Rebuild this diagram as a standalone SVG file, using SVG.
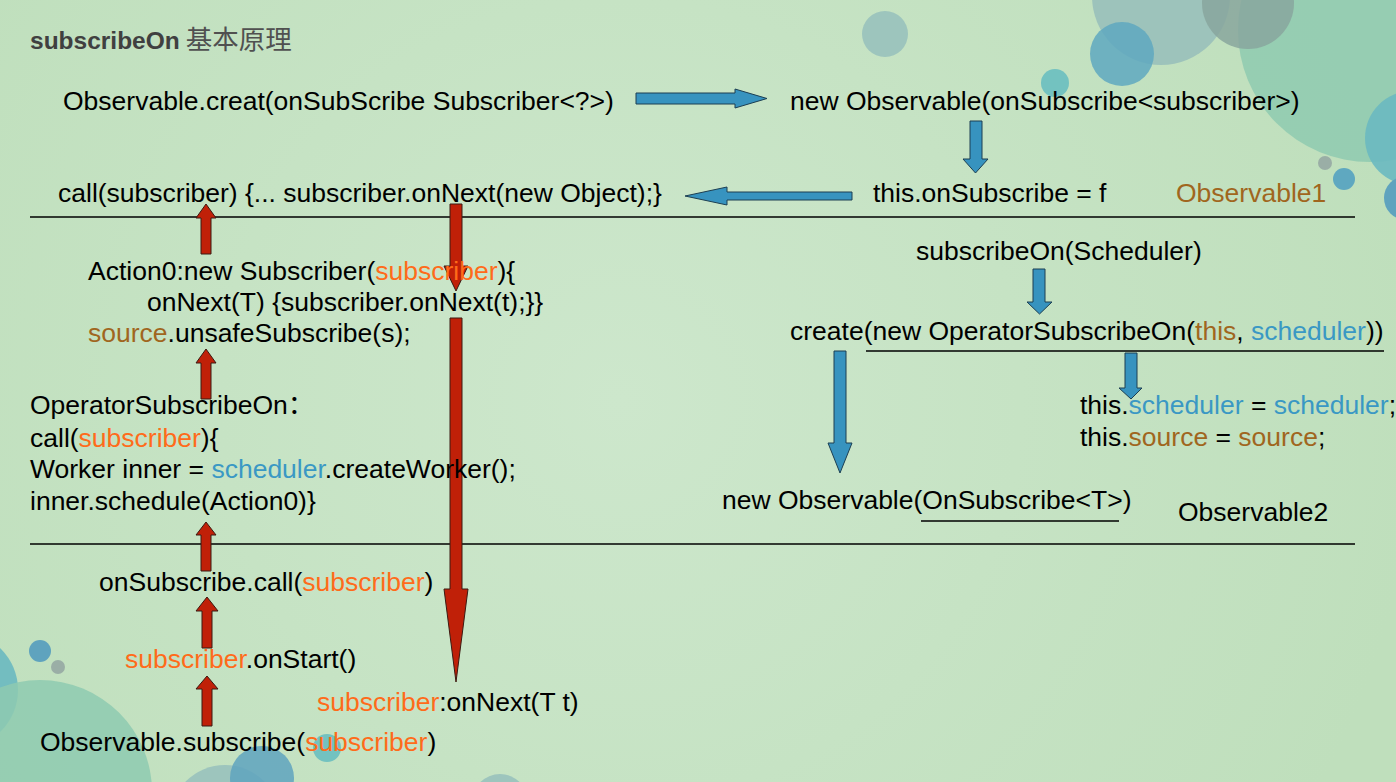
<svg xmlns="http://www.w3.org/2000/svg" width="1396" height="782" viewBox="0 0 1396 782">
<defs>
<radialGradient id="bg" cx="620" cy="400" r="800" gradientUnits="userSpaceOnUse">
<stop offset="0" stop-color="#cde7cc"/>
<stop offset="1" stop-color="#bfdfbc"/>
</radialGradient>
<style>
.t{font-family:"Liberation Sans",Arial,sans-serif;font-size:26.5px;fill:#000}
.o{fill:#ff6b1a}
.b{fill:#3a98c4}
.br{fill:#a0661e}
.ba{fill:#3793bf;stroke:#1d3f52;stroke-width:1}
.ra{fill:#c02008;stroke:#3b1a12;stroke-width:1}
.ln{stroke:#000;stroke-width:1.3;fill:none}
</style>
</defs>
<rect width="1396" height="782" fill="url(#bg)"/>
<g id="decor">
<circle cx="1370" cy="30" r="132" fill="#8ecab0" opacity="0.85"/>
<circle cx="1161" cy="-4" r="69" fill="#9dc3bb"/>
<circle cx="1248" cy="3" r="46" fill="#88a69e" opacity="0.85"/>
<circle cx="1122" cy="54" r="32" fill="#5fa8c0" opacity="0.85"/>
<circle cx="1055" cy="83" r="14" fill="#73c2c0"/>
<circle cx="885" cy="34" r="23" fill="#9dc5bd"/>
<circle cx="1412" cy="138" r="47" fill="#6ab9c0" opacity="0.9"/>
<circle cx="1325" cy="163" r="7" fill="#9aaea6"/>
<circle cx="1344" cy="179" r="11" fill="#5fa8c0"/>
<circle cx="1406" cy="198" r="22" fill="#5fa3be"/>
<circle cx="-40" cy="690" r="58" fill="#6ab9c0" opacity="0.9"/>
<circle cx="40" cy="651" r="11" fill="#5fa3be"/>
<circle cx="58" cy="667" r="7" fill="#9aaea6"/>
<circle cx="40" cy="792" r="112" fill="#8ecab0" opacity="0.85"/>
<circle cx="225" cy="820" r="55" fill="#9dc5bd"/>
<circle cx="262" cy="778" r="32" fill="#5fa3be" opacity="0.85"/>
<circle cx="327" cy="748" r="14" fill="#73c2c0"/>
<circle cx="500" cy="802" r="28" fill="#9dc5bd"/>
</g>
<g id="title">
<text x="30" y="49" font-family="'Liberation Sans',Arial,sans-serif" font-size="24.5" font-weight="bold" fill="#404040">subscribeOn<tspan font-family="'Noto Sans CJK SC',sans-serif" font-weight="normal" font-size="26.5" fill="#505050"> 基本原理</tspan></text>
</g>
<g id="separators">
<line class="ln" x1="30" y1="217" x2="1355" y2="217"/>
<line class="ln" x1="30" y1="544" x2="1355" y2="544"/>
<line class="ln" x1="866" y1="351" x2="1384" y2="351"/>
<line class="ln" x1="921" y1="521" x2="1119" y2="521"/>
</g>
<g id="connectors">
<polygon class="ba" points="636,93 735,93 735,89 767,98.5 735,108 735,104 636,104"/>
<polygon class="ba" points="852,192 727,192 727,187 685,196 727,205 727,200 852,200"/>
<polygon class="ba" points="970,121 982,121 982,159 988,159 975.5,173 963,159 970,159"/>
<polygon class="ba" points="1033,269 1045,269 1045,302 1052,302 1039.5,314 1027,302 1033,302"/>
<polygon class="ba" points="1125,353 1137,353 1137,388 1142,388 1131,399 1119,388 1125,388"/>
<polygon class="ba" points="834,351 846,351 846,443 852,443 840,473 828,443 834,443"/>
<polygon class="ra" points="206,204 216,218 211,218 211,254 201,254 201,218 196,218"/>
<polygon class="ra" points="206,349 216,363 211,363 211,399 201,399 201,363 196,363"/>
<polygon class="ra" points="206,522 216,535 211,535 211,571 201,571 201,535 196,535"/>
<polygon class="ra" points="207,597 218,611 212,611 212,648 202,648 202,611 196,611"/>
<polygon class="ra" points="207,676 218,689 212,689 212,726 202,726 202,689 196,689"/>
<polygon class="ra" points="450,204 462,204 462,266 468,266 456,291 444,266 450,266"/>
<polygon class="ra" points="450,318 462,318 462,589 468,589 456,682 444,589 450,589"/>
</g>
<g id="n-create"><text class="t" x="63" y="110">Observable.creat(onSubScribe Subscriber&lt;?&gt;)</text></g>
<g id="n-newobs"><text class="t" x="790" y="110">new Observable(onSubscribe&lt;subscriber&gt;)</text></g>
<g id="n-call"><text class="t" x="58" y="202">call(subscriber) {... subscriber.onNext(new Object);}</text></g>
<g id="n-assign"><text class="t" x="873" y="202">this.onSubscribe = f</text></g>
<g id="n-obs1"><text class="t br" x="1176" y="202">Observable1</text></g>
<g id="n-subon"><text class="t" x="916" y="260">subscribeOn(Scheduler)</text></g>
<g id="n-action0">
<text class="t" x="88" y="280">Action0:new Subscriber(<tspan class="o">subscriber</tspan>){</text>
<text class="t" x="147" y="311">onNext(T) {subscriber.onNext(t);}}</text>
<text class="t" x="88" y="342"><tspan class="br">source</tspan>.unsafeSubscribe(s);</text>
</g>
<g id="n-create2"><text class="t" x="790" y="340">create(new OperatorSubscribeOn(<tspan class="br">this</tspan>, <tspan class="b">scheduler</tspan>))</text></g>
<g id="n-fields">
<text class="t" x="1080" y="414">this.<tspan class="b">scheduler</tspan> = <tspan class="b">scheduler</tspan>;</text>
<text class="t" x="1080" y="446">this.<tspan class="br">source</tspan> = <tspan class="br">source</tspan>;</text>
</g>
<g id="n-operator">
<text class="t" x="30" y="414">OperatorSubscribeOn<tspan font-family="'Noto Sans CJK SC',sans-serif">：</tspan></text>
<text class="t" x="30" y="447">call(<tspan class="o">subscriber</tspan>){</text>
<text class="t" x="30" y="478">Worker inner = <tspan class="b">scheduler</tspan>.createWorker();</text>
<text class="t" x="30" y="510">inner.schedule(Action0)}</text>
</g>
<g id="n-newobs2"><text class="t" x="722" y="509">new Observable(OnSubscribe&lt;T&gt;)</text></g>
<g id="n-obs2"><text class="t" x="1178" y="521">Observable2</text></g>
<g id="n-oncall"><text class="t" x="99" y="591">onSubscribe.call(<tspan class="o">subscriber</tspan>)</text></g>
<g id="n-onstart"><text class="t" x="125" y="668"><tspan class="o">subscriber</tspan>.onStart()</text></g>
<g id="n-onnext"><text class="t" x="317" y="711"><tspan class="o">subscriber</tspan>:onNext(T t)</text></g>
<g id="n-subscribe"><text class="t" x="40" y="751">Observable.subscribe(<tspan class="o">subscriber</tspan>)</text></g>
</svg>
